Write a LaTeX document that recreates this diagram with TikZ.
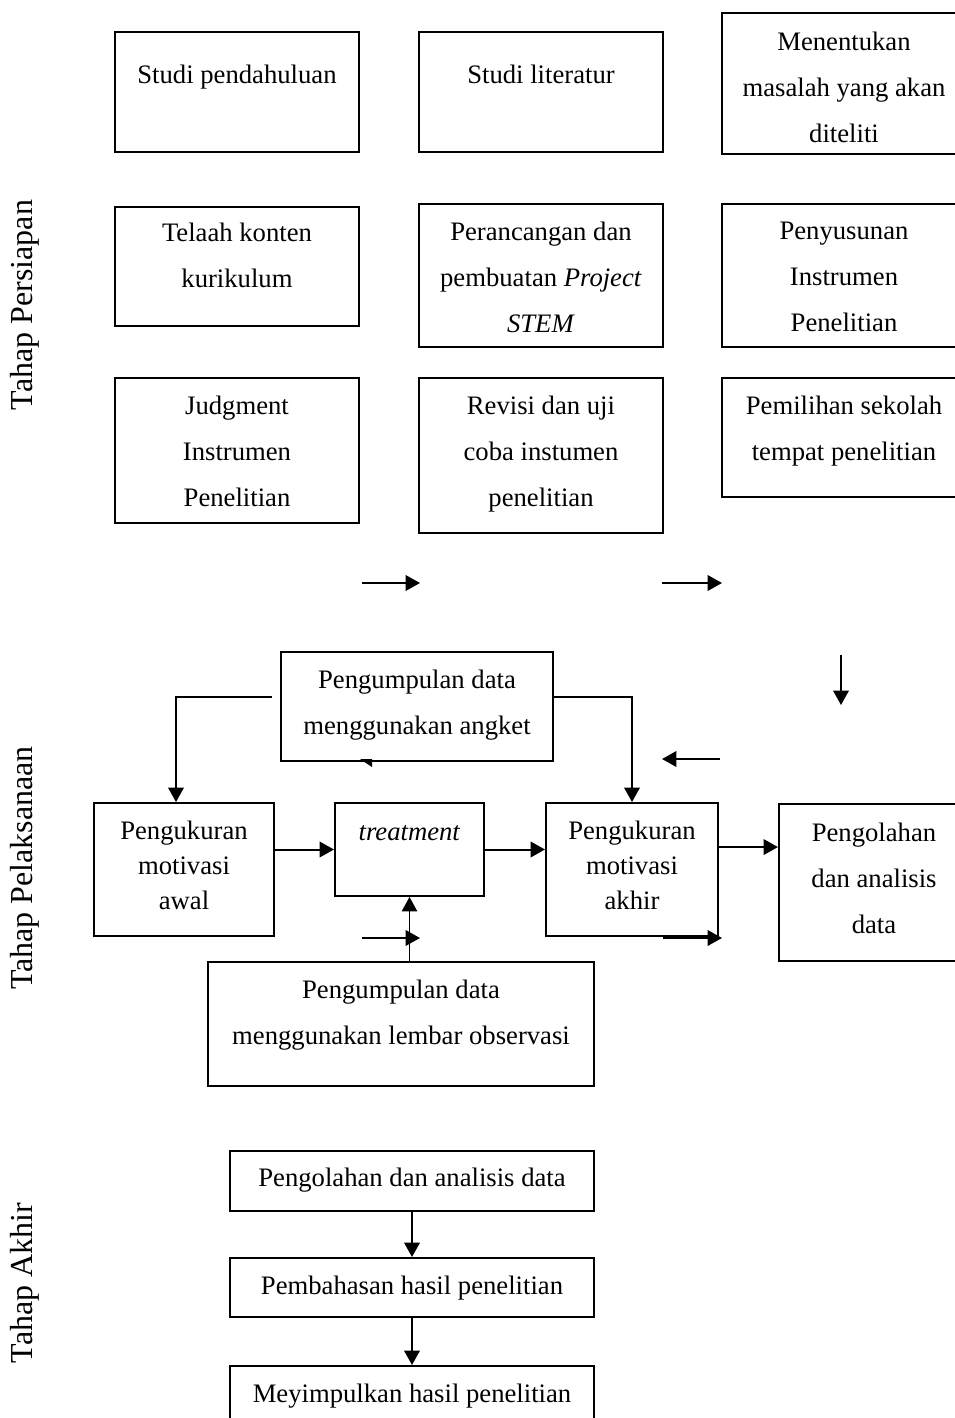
\documentclass[tikz,border=0pt]{standalone}
\usepackage{fontspec}
\setmainfont{Liberation Serif}
\usetikzlibrary{arrows.meta}

\begin{document}
\begin{tikzpicture}[x=0.45pt, y=-0.45pt,
    kotak/.style = {draw, line width=0.9pt, anchor=north west, inner sep=0pt},
    teks/.style  = {anchor=north, inner sep=0pt, align=center,
                    font=\fontsize{12}{20.7}\selectfont},
    rapat/.style = {teks, font=\fontsize{12}{15.75}\selectfont},
    judul/.style = {rotate=90, font=\fontsize{14.4}{16}\selectfont},
    panah/.style = {-{Triangle[length=6.5pt, width=7pt]}, line width=0.9pt},
    tipis/.style = {-{Triangle[length=6.5pt, width=7pt]}, line width=0.45pt},
]
\useasboundingbox (0,0) rectangle (955,1418);

% --- Judul tahap ---
\node[judul] (jpersiapan)   at (25,305)  {Tahap Persiapan};
\node[judul] (jpelaksanaan) at (25,868)  {Tahap Pelaksanaan};
\node[judul] (jakhir)       at (25,1283) {Tahap Akhir};

% --- Tahap persiapan ---
\node[kotak, minimum width=109.8pt, minimum height=54pt,
      label={[teks, yshift=-15.3pt]north:{Studi pendahuluan}}] (pendahuluan) at (114,31) {};
\node[kotak, minimum width=109.8pt, minimum height=54pt,
      label={[teks, yshift=-15.3pt]north:{Studi literatur}}] (literatur) at (418,31) {};
\node[kotak, minimum width=109.8pt, minimum height=63.45pt,
      label={[teks, yshift=-9pt]north:{Menentukan\\masalah yang akan\\diteliti}}] (masalah) at (721,12) {};

\node[kotak, minimum width=109.8pt, minimum height=53.55pt,
      label={[teks, yshift=-7.65pt]north:{Telaah konten\\kurikulum}}] (telaah) at (114,206) {};
\node[kotak, minimum width=109.8pt, minimum height=64.35pt,
      label={[teks, yshift=-8.55pt]north:{Perancangan dan\\pembuatan \textit{Project}\\\textit{STEM}}}] (rancang) at (418,203) {};
\node[kotak, minimum width=109.8pt, minimum height=64.35pt,
      label={[teks, yshift=-8.55pt]north:{Penyusunan\\Instrumen\\Penelitian}}] (susun) at (721,203) {};

\node[kotak, minimum width=109.8pt, minimum height=65.25pt,
      label={[teks, yshift=-8.55pt]north:{Judgment\\Instrumen\\Penelitian}}] (judgment) at (114,377) {};
\node[kotak, minimum width=109.8pt, minimum height=69.75pt,
      label={[teks, yshift=-8.55pt]north:{Revisi dan uji\\coba instumen\\penelitian}}] (revisi) at (418,377) {};
\node[kotak, minimum width=109.8pt, minimum height=53.55pt,
      label={[teks, yshift=-8.55pt]north:{Pemilihan sekolah\\tempat penelitian}}] (pilih) at (721,377) {};

% --- Panah lepas ---
\coordinate (a1) at (362,583);  \coordinate (b1) at (420,583);
\coordinate (a2) at (662,583);  \coordinate (b2) at (722,583);
\coordinate (a3) at (841,655);  \coordinate (b3) at (841,705);
\coordinate (a4) at (720,759);  \coordinate (b4) at (662,759);
\coordinate (a5) at (362,938);  \coordinate (b5) at (420,938);
\coordinate (a6) at (663,938);  \coordinate (b6) at (722,938);
\draw[panah] (a1) -- (b1);
\draw[panah] (a2) -- (b2);
\draw[panah] (a3) -- (b3);
\draw[panah] (a4) -- (b4);

% --- Tahap pelaksanaan ---
\node[kotak, minimum width=122.4pt, minimum height=49.05pt,
      label={[teks, yshift=-8.55pt]north:{Pengumpulan data\\menggunakan angket}}] (angket) at (280,651) {};
\fill (360,759) -- (372,759) -- (372,767) -- cycle;

\node[kotak, minimum width=81pt, minimum height=59.85pt,
      label={[rapat, yshift=-8.55pt]north:{Pengukuran\\motivasi\\awal}}] (awal) at (93,802) {};
\node[kotak, minimum width=67.05pt, minimum height=41.85pt,
      label={[teks, yshift=-10.35pt]north:{\textit{treatment}}}] (treat) at (334,802) {};
\node[kotak, minimum width=77.4pt, minimum height=59.85pt,
      label={[rapat, yshift=-8.55pt]north:{Pengukuran\\motivasi\\akhir}}] (akhir) at (545,802) {};
\node[kotak, minimum width=85.5pt, minimum height=70.65pt,
      label={[teks, yshift=-9pt]north:{Pengolahan\\dan analisis\\data}}] (olah) at (778,803) {};
\node[kotak, minimum width=173.7pt, minimum height=55.8pt,
      label={[teks, yshift=-8.55pt]north:{Pengumpulan data\\menggunakan lembar observasi}}] (observasi) at (207,961) {};

\draw[panah] ([xshift=-3.6pt, yshift=4.3pt]angket.west) -| ([xshift=-3.6pt]awal.north);
\draw[panah] ([yshift=4.3pt]angket.east) -| (akhir.north);
\draw[panah] (awal.east |- treat.west) -- (treat.west);
\draw[panah] (treat.east) -- (treat.east -| akhir.west);
\draw[panah] ([yshift=10.1pt]akhir.east) -- ([yshift=10.1pt]akhir.east -| olah.west);
\draw[tipis] (treat.south |- observasi.north) -- (treat.south);
\draw[panah] (a5) -- (b5);
\draw[panah] (a6) -- (b6);

% --- Tahap akhir ---
\node[kotak, minimum width=163.8pt, minimum height=27pt,
      label={[teks, yshift=-8.1pt]north:{Pengolahan dan analisis data}}] (olah2) at (229,1150) {};
\node[kotak, minimum width=163.8pt, minimum height=26.55pt,
      label={[teks, yshift=-8.55pt]north:{Pembahasan hasil penelitian}}] (bahas) at (229,1257) {};
\node[kotak, minimum width=163.8pt, minimum height=27pt,
      label={[teks, yshift=-8.55pt]north:{Meyimpulkan hasil penelitian}}] (simpul) at (229,1365) {};

\draw[panah] (olah2) -- (bahas);
\draw[panah] (bahas) -- (simpul);

\end{tikzpicture}
\end{document}
